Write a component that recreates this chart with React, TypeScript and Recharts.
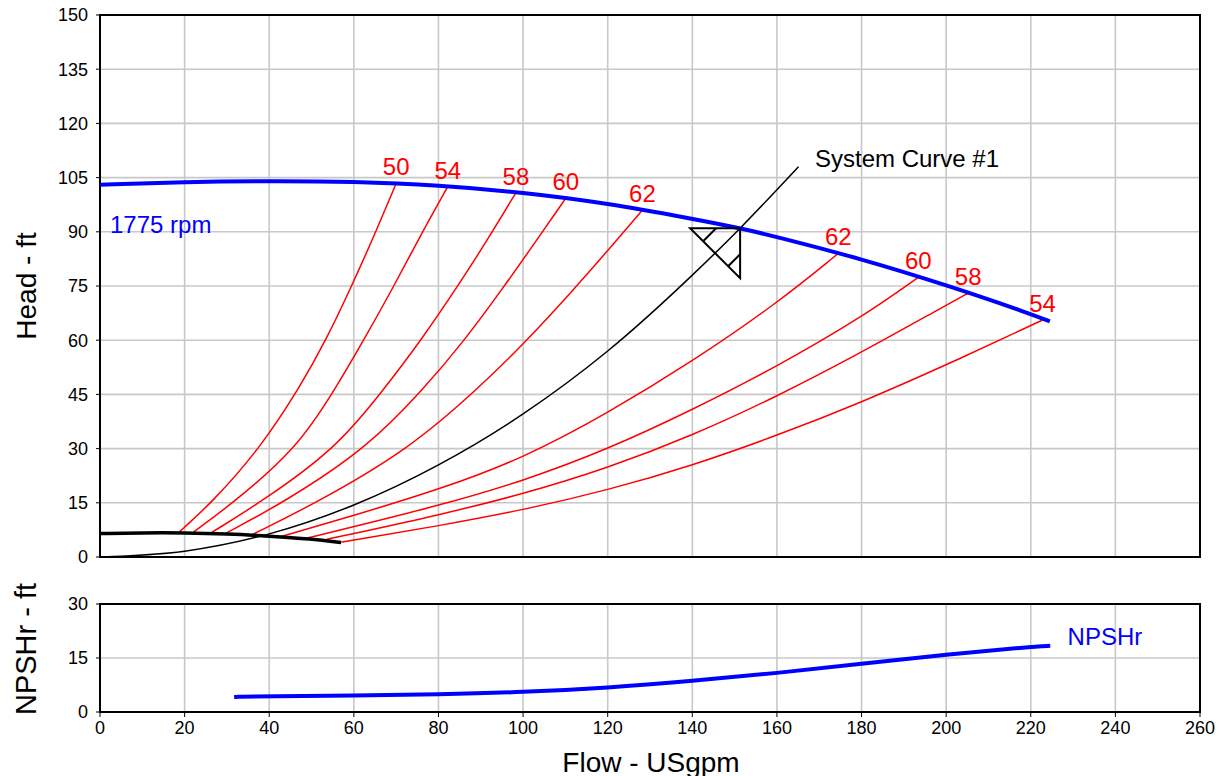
import React from 'react';
import {
  ComposedChart,
  Line,
  XAxis,
  YAxis,
  CartesianGrid,
  ReferenceArea,
  ReferenceDot,
} from 'recharts';

// ---------- tick labels ----------
const flowTicks = [0, 20, 40, 60, 80, 100, 120, 140, 160, 180, 200, 220, 240, 260];
const headTicks = [0, 15, 30, 45, 60, 75, 90, 105, 120, 135, 150];
const npshTicks = [0, 15, 30];

// ---------- pump curve 1775 rpm ----------
const pumpFlow = [0, 20, 40, 60, 80, 100, 120, 140, 151.3, 160, 180, 200, 220, 224.5];
const pumpHead = [103, 103.8, 104.1, 103.9, 102.9, 100.9, 97.9, 93.6, 91, 88.6, 82.5, 75.3, 67.3, 65.2];

// ---------- minimum (thick black) curve ----------
const minFlow = [0, 10, 20, 30, 40, 50, 57];
const minHead = [6.5, 6.7, 6.7, 6.4, 5.8, 5.0, 4.0];

// ---------- system curve #1 ----------
const sysFlow = [0, 20, 40, 60, 80, 100, 120, 140, 151.3, 165.1];
const sysHead = [0, 1.6, 6.4, 14.4, 25.5, 39.6, 57, 78, 91, 108];

// ---------- efficiency iso-curves (left branch) ----------
const eff50Flow = [18.7, 26.4, 37.8, 47.5, 53.4, 59.5, 65.2, 70];
const eff50Head = [6.9, 15, 30, 47.5, 60, 75, 90, 103.4];
const eff54Flow = [22.1, 31.5, 46.5, 55.6, 62.3, 69.5, 76.2, 82.2];
const eff54Head = [6.9, 15, 30, 46.5, 60, 75, 90, 102.5];
const eff58Flow = [26.4, 37.8, 55.9, 67.5, 75.9, 84.6, 91.7, 98.3];
const eff58Head = [6.8, 15, 30, 47, 60, 75, 88, 100.8];
const eff60Flow = [29.9, 43.3, 63, 76.5, 86.2, 95.3, 103.4, 110.1];
const eff60Head = [6.7, 15, 30, 46.5, 60, 74.5, 88, 99.3];
const eff62Flow = [35.8, 51.2, 73.3, 89.8, 100, 111.9, 122.9, 128.2];
const eff62Head = [6.1, 15, 30, 47.1, 58.8, 73.9, 88.7, 96];

// ---------- efficiency iso-curves (right branch) ----------
const eff62RFlow = [42.6, 60, 80, 100, 120, 140, 160, 174.5];
const eff62RHead = [5.6, 11.5, 18.6, 27.3, 39.8, 54.1, 70.2, 84];
const eff60RFlow = [49.2, 60, 80, 100, 120, 140, 160, 180, 193.4];
const eff60RHead = [5.3, 8.4, 14.2, 21, 29.8, 40.7, 52.7, 66.3, 77.4];
const eff58RFlow = [53.6, 60, 80, 100, 120, 140, 160, 180, 200, 205.2];
const eff58RHead = [4.9, 6.5, 11.6, 17.4, 24.6, 33.6, 44.4, 56.6, 69.7, 73];
const eff54RFlow = [57.1, 60, 80, 100, 120, 140, 160, 180, 200, 222.8];
const eff54RHead = [4.1, 4.7, 8.6, 13, 18.5, 25.3, 33.6, 42.8, 53.1, 65.6];

const effLabels = ['50', '54', '58', '60', '62', '62', '60', '58', '54'];

// ---------- NPSHr ----------
const npshFlow = [31.7, 40, 60, 80, 100, 120, 140, 160, 180, 200, 220, 224.6];
const npshHead = [4.2, 4.35, 4.6, 4.9, 5.5, 6.7, 8.6, 10.8, 13.4, 16.0, 18.1, 18.4];

const pts = (xs: number[], ys: number[]) => xs.map((x, i) => ({ x, y: ys[i] }));

const effCurves = [
  pts(eff50Flow, eff50Head),
  pts(eff54Flow, eff54Head),
  pts(eff58Flow, eff58Head),
  pts(eff60Flow, eff60Head),
  pts(eff62Flow, eff62Head),
  pts(eff62RFlow, eff62RHead),
  pts(eff60RFlow, eff60RHead),
  pts(eff58RFlow, eff58RHead),
  pts(eff54RFlow, eff54RHead),
];

const pumpData = pts(pumpFlow, pumpHead);
const minData = pts(minFlow, minHead);
const sysData = pts(sysFlow, sysHead);
const npshData = pts(npshFlow, npshHead);

const FONT = '"Liberation Sans", Arial, Helvetica, sans-serif';
const BLUE = '#0000ff';
const RED = '#ff0000';
const GRID = '#c8c8c8';
const ANN = 24;

const tickStyle = { fill: '#000', fontSize: 18 };

export default function App() {
  const dutyX = pumpFlow[8];
  const dutyY = pumpHead[8];
  return (
    <div
      style={{
        position: 'absolute',
        left: 0,
        top: 0,
        width: 1219,
        height: 776,
        background: '#fff',
        fontFamily: FONT,
      }}
    >
      {/* NPSHr chart */}
      <div style={{ position: 'absolute', left: 0, top: 560 }}>
        <ComposedChart width={1219} height={216} margin={{ top: 44, right: 19, bottom: 34, left: 0 }}>
          <CartesianGrid stroke={GRID} strokeWidth={1.6} />
          <XAxis
            type="number"
            dataKey="x"
            domain={[0, 260]}
            ticks={flowTicks}
            interval={0}
            allowDataOverflow
            axisLine={false}
            tickLine={{ stroke: '#000', strokeWidth: 1 }}
            tickSize={5}
            tickMargin={4}
            tick={tickStyle}
            height={30}
          />
          <YAxis
            type="number"
            dataKey="y"
            domain={[0, 30]}
            ticks={npshTicks}
            interval={0}
            allowDataOverflow
            width={100}
            axisLine={false}
            tickLine={{ stroke: '#000', strokeWidth: 1 }}
            tickSize={4}
            tickMargin={8}
            tick={tickStyle}
          />
          <Line
            data={npshData}
            dataKey="y"
            type="basis"
            stroke={BLUE}
            strokeWidth={4}
            dot={false}
            isAnimationActive={false}
          />
          <ReferenceDot
            x={228.7}
            y={21.1}
            r={0}
            shape={(p: any) => (
              <text x={p.cx} y={p.cy} dominantBaseline="central" fill={BLUE} fontSize={ANN} fontFamily={FONT}>
                NPSHr
              </text>
            )}
          />
          <ReferenceArea
            x1={0}
            x2={260}
            y1={0}
            y2={30}
            fill="none"
            fillOpacity={0}
            stroke="#000"
            strokeWidth={2}
            ifOverflow="visible"
          />
        </ComposedChart>
      </div>

      {/* Head chart */}
      <div style={{ position: 'absolute', left: 0, top: 0, pointerEvents: 'none' }}>
        <ComposedChart width={1219} height={580} margin={{ top: 15, right: 19, bottom: 23, left: 0 }}>
          <CartesianGrid
            stroke={GRID}
            strokeWidth={1.6}
            verticalValues={flowTicks}
            horizontalValues={headTicks}
          />
          <XAxis
            type="number"
            dataKey="x"
            domain={[0, 260]}
            ticks={flowTicks}
            interval={0}
            allowDataOverflow
            hide
          />
          <YAxis
            type="number"
            dataKey="y"
            domain={[0, 150]}
            ticks={headTicks}
            interval={0}
            allowDataOverflow
            width={100}
            axisLine={false}
            tickLine={{ stroke: '#000', strokeWidth: 1 }}
            tickSize={4}
            tickMargin={8}
            tick={tickStyle}
          />
          <Line
            data={sysData}
            dataKey="y"
            type="monotone"
            stroke="#000"
            strokeWidth={1.5}
            dot={false}
            isAnimationActive={false}
          />
          {effCurves.map((d, i) => (
            <Line
              key={i}
              data={d}
              dataKey="y"
              type="basis"
              stroke={RED}
              strokeWidth={1.5}
              dot={false}
              isAnimationActive={false}
            />
          ))}
          <Line
            data={minData}
            dataKey="y"
            type="basis"
            stroke="#000"
            strokeWidth={3.5}
            dot={false}
            isAnimationActive={false}
          />
          <Line
            data={pumpData}
            dataKey="y"
            type="basis"
            stroke={BLUE}
            strokeWidth={4}
            dot={false}
            isAnimationActive={false}
          />
          {effCurves.map((d, i) => (
            <ReferenceDot
              key={'l' + i}
              x={d[d.length - 1].x}
              y={d[d.length - 1].y}
              r={0}
              shape={(p: any) => (
                <text x={p.cx} y={p.cy - 8} textAnchor="middle" fill={RED} fontSize={ANN} fontFamily={FONT}>
                  {effLabels[i]}
                </text>
              )}
            />
          ))}
          <ReferenceDot
            x={dutyX}
            y={dutyY}
            r={0}
            shape={(p: any) => (
              <g stroke="#000" strokeWidth={2} fill="none">
                <path d={`M${p.cx - 50},${p.cy} L${p.cx},${p.cy} L${p.cx},${p.cy + 50} Z`} />
                <path d={`M${p.cx - 37},${p.cy + 13} L${p.cx - 24},${p.cy}`} />
                <path d={`M${p.cx - 12},${p.cy + 38} L${p.cx},${p.cy + 26}`} />
              </g>
            )}
          />
          <ReferenceDot
            x={2.36}
            y={91.9}
            r={0}
            shape={(p: any) => (
              <text x={p.cx} y={p.cy} dominantBaseline="central" fill={BLUE} fontSize={ANN} fontFamily={FONT}>
                1775 rpm
              </text>
            )}
          />
          <ReferenceDot
            x={169}
            y={110.4}
            r={0}
            shape={(p: any) => (
              <text x={p.cx} y={p.cy} dominantBaseline="central" fill="#000" fontSize={ANN} fontFamily={FONT}>
                System Curve #1
              </text>
            )}
          />
          <ReferenceArea
            x1={0}
            x2={260}
            y1={0}
            y2={150}
            fill="none"
            fillOpacity={0}
            stroke="#000"
            strokeWidth={2}
            ifOverflow="visible"
          />
        </ComposedChart>
      </div>

      {/* Axis titles */}
      <svg
        width={1219}
        height={776}
        style={{ position: 'absolute', left: 0, top: 0, pointerEvents: 'none' }}
      >
        <text
          x={26}
          y={286}
          transform="rotate(-90 26 286)"
          textAnchor="middle"
          dominantBaseline="central"
          fontSize={28}
          fill="#000"
          fontFamily={FONT}
        >
          Head - ft
        </text>
        <text
          x={26}
          y={649}
          transform="rotate(-90 26 649)"
          textAnchor="middle"
          dominantBaseline="central"
          fontSize={29}
          fill="#000"
          fontFamily={FONT}
        >
          NPSHr - ft
        </text>
        <text
          x={651}
          y={762}
          textAnchor="middle"
          dominantBaseline="central"
          fontSize={28}
          fill="#000"
          fontFamily={FONT}
        >
          Flow - USgpm
        </text>
      </svg>
    </div>
  );
}
